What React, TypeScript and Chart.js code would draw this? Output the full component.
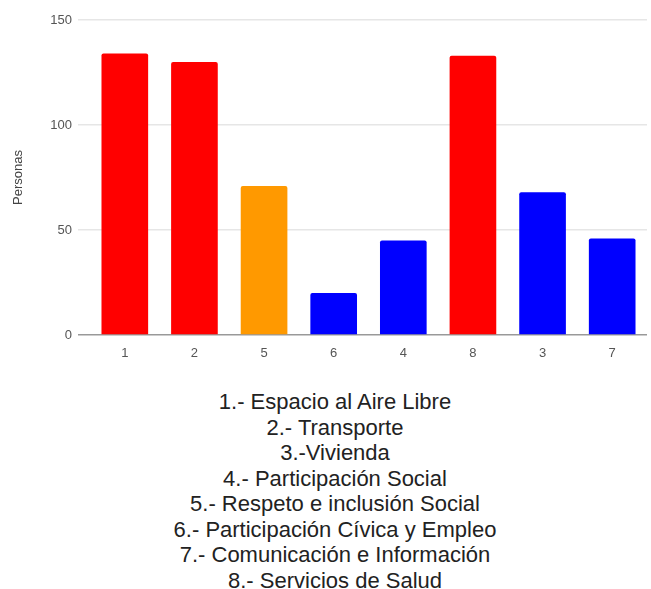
import React, { useEffect, useRef } from "react";
import { Chart, registerables } from "chart.js";

Chart.register(...registerables);

const categories = ["1", "2", "5", "6", "4", "8", "3", "7"];
const values = [134, 130, 71, 20, 45, 133, 68, 46];
const barColors = ["#ff0000", "#ff0000", "#ff9900", "#0000ff", "#0000ff", "#ff0000", "#0000ff", "#0000ff"];
const yTicks = [0, 50, 100, 150];
const yTitle = "Personas";
const legendLines = [
  "1.- Espacio al Aire Libre",
  "2.- Transporte",
  "3.-Vivienda",
  "4.- Participación Social",
  "5.- Respeto e inclusión Social",
  "6.- Participación Cívica y Empleo",
  "7.- Comunicación e Información",
  "8.- Servicios de Salud",
];

export default function App() {
  const ref = useRef<HTMLCanvasElement | null>(null);
  useEffect(() => {
    if (!ref.current) return;
    const chart = new Chart(ref.current, {
      type: "bar",
      data: {
        labels: categories,
        datasets: [
          {
            data: values,
            backgroundColor: barColors,
            borderWidth: 0,
            borderRadius: 2,
            borderSkipped: "bottom",
            categoryPercentage: 1,
            barPercentage: 0.67,
          },
        ],
      },
      options: {
        animation: false,
        responsive: false,
        maintainAspectRatio: false,
        layout: { padding: { top: 20, right: 4, left: 0, bottom: 0 } },
        plugins: { legend: { display: false }, tooltip: { enabled: false } },
        scales: {
          x: {
            grid: { display: false },
            border: { display: false },
            ticks: {
              color: "#555",
              padding: 3,
              font: { family: "Liberation Sans, Arial", size: 13 },
              maxRotation: 0,
            },
            afterFit: (s: any) => {
              s.height = 35;
            },
          },
          y: {
            min: 0,
            max: 150,
            afterBuildTicks: (s: any) => {
              s.ticks = yTicks.map((v) => ({ value: v }));
            },
            grid: {
              color: (ctx: any) => (ctx.tick && ctx.tick.value === 0 ? "#999999" : "#e6e6e6"),
              lineWidth: 1.5,
              drawTicks: true,
              tickLength: 12,
            },
            border: { display: false },
            ticks: {
              color: "#555",
              padding: 6,
              font: { family: "Liberation Sans, Arial", size: 13 },
            },
            title: {
              display: true,
              text: yTitle,
              color: "#444",
              font: { family: "Liberation Sans, Arial", size: 13 },
              padding: { top: 11, bottom: 0 },
            },
            afterFit: (s: any) => {
              s.width = 90;
            },
          },
        },
      },
    });
    return () => chart.destroy();
  }, []);

  return (
    <div style={{ position: "absolute", left: 0, top: 0, width: 651, height: 589, background: "#fff", overflow: "hidden" }}>
      <canvas ref={ref} width={651} height={370} style={{ position: "absolute", left: 0, top: 0, width: 651, height: 370 }} />
      <div
        style={{
          position: "absolute",
          left: 0,
          width: 670,
          top: 389,
          textAlign: "center",
          fontFamily: "'Liberation Sans', Arial, sans-serif",
          fontSize: 22,
          lineHeight: "25.5px",
          color: "#222",
          whiteSpace: "nowrap",
        }}
      >
        {legendLines.map((l, i) => (
          <div key={i}>{l}</div>
        ))}
      </div>
    </div>
  );
}
